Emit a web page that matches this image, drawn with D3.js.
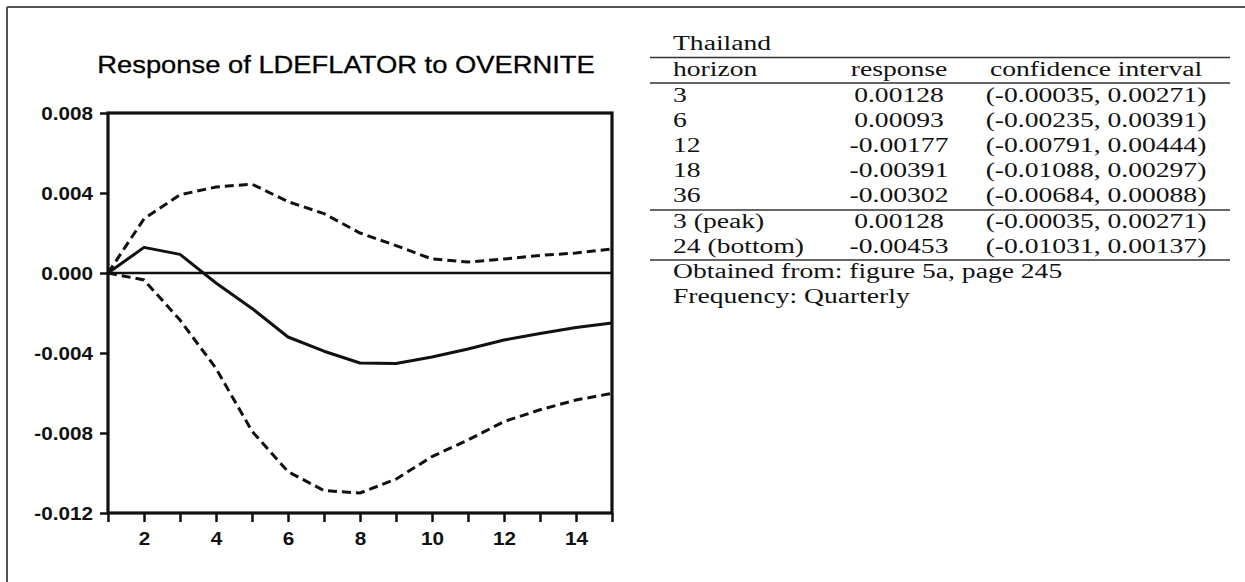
<!DOCTYPE html>
<html>
<head>
<meta charset="utf-8">
<script src="https://cdn.jsdelivr.net/npm/d3@7"></script>
<style>
  html, body { margin: 0; padding: 0; background: #ffffff; }
  svg { display: block; }
</style>
</head>
<body>
<svg id="chart" width="1245" height="582"></svg>
<script>
// ---------------- data ----------------
const horizons = [1, 2, 3, 4, 5, 6, 7, 8, 9, 10, 11, 12, 13, 14, 15];
const response = [0, 0.00128, 0.00093, -0.0005, -0.00177, -0.0032, -0.00391, -0.0045, -0.00453, -0.0042, -0.0038, -0.00335, -0.00302, -0.00272, -0.0025];
const upperBand = [0, 0.00271, 0.00391, 0.0043, 0.00444, 0.00357, 0.00297, 0.002, 0.00137, 0.0007, 0.00055, 0.0007, 0.00088, 0.001, 0.0012];
const lowerBand = [0, -0.00035, -0.00235, -0.00477, -0.00791, -0.00993, -0.01088, -0.011, -0.01031, -0.00918, -0.00835, -0.00743, -0.00684, -0.00635, -0.00602];

const yTickValues = [0.008, 0.004, 0.000, -0.004, -0.008, -0.012];
const yTickLabels = ["0.008", "0.004", "0.000", "-0.004", "-0.008", "-0.012"];
const xTickValues = [1, 2, 3, 4, 5, 6, 7, 8, 9, 10, 11, 12, 13, 14, 15];
const xTickLabels = ["", "2", "", "4", "", "6", "", "8", "", "10", "", "12", "", "14", ""];

const chartTitle = "Response of LDEFLATOR to OVERNITE";

const tableTitle = "Thailand";
const tableHeader = ["horizon", "response", "confidence interval"];
const tableHorizon = ["3", "6", "12", "18", "36"];
const tableResponse = ["0.00128", "0.00093", "-0.00177", "-0.00391", "-0.00302"];
const tableCI = ["(-0.00035, 0.00271)", "(-0.00235, 0.00391)", "(-0.00791, 0.00444)", "(-0.01088, 0.00297)", "(-0.00684, 0.00088)"];
const summaryHorizon = ["3 (peak)", "24 (bottom)"];
const summaryResponse = ["0.00128", "-0.00453"];
const summaryCI = ["(-0.00035, 0.00271)", "(-0.01031, 0.00137)"];
const tableNotes = ["Obtained from: figure 5a, page 245", "Frequency: Quarterly"];

// ---------------- drawing ----------------
const svg = d3.select("#chart");
svg.append("rect").attr("width", 1245).attr("height", 582).attr("fill", "#ffffff");

// outer frame (page border)
svg.append("line").attr("x1", 7).attr("y1", 7).attr("x2", 1245).attr("y2", 7)
  .attr("stroke", "#555").attr("stroke-width", 2);
svg.append("line").attr("x1", 7).attr("y1", 7).attr("x2", 7).attr("y2", 582)
  .attr("stroke", "#555").attr("stroke-width", 2);

const plot = { left: 108, top: 113, right: 612, bottom: 513 };
const x = d3.scaleLinear().domain([1, 15]).range([plot.left, plot.right]);
const y = d3.scaleLinear().domain([-0.012, 0.008]).range([plot.bottom, plot.top]);

const sansFont = "'Liberation Sans', Arial, Helvetica, sans-serif";
const stretch = 1.15;

// title
svg.append("text")
  .attr("transform", `translate(346,73) scale(1.14,1)`)
  .attr("text-anchor", "middle")
  .attr("font-family", sansFont)
  .attr("font-size", 24)
  .attr("fill", "#000")
  .attr("stroke", "#000").attr("stroke-width", 0.3)
  .text(chartTitle);

// y axis
const yAxis = svg.append("g")
  .attr("transform", `translate(${plot.left},0)`)
  .call(d3.axisLeft(y).tickValues(yTickValues).tickSize(8).tickSizeOuter(0)
    .tickFormat((d, i) => yTickLabels[i]));
yAxis.select(".domain").remove();
yAxis.selectAll(".tick line").attr("stroke", "#111").attr("stroke-width", 2.5);
yAxis.selectAll(".tick text")
  .attr("x", null).attr("dy", null)
  .attr("transform", `translate(-15,6.5) scale(${stretch},1)`)
  .attr("text-anchor", "end")
  .attr("font-family", sansFont)
  .attr("font-weight", "bold")
  .attr("font-size", 18)
  .attr("fill", "#111");

// x axis
const xAxis = svg.append("g")
  .attr("transform", `translate(0,${plot.bottom})`)
  .call(d3.axisBottom(x).tickValues(xTickValues).tickSize(9).tickSizeOuter(0)
    .tickFormat((d, i) => xTickLabels[i]));
xAxis.select(".domain").remove();
xAxis.selectAll(".tick line").attr("stroke", "#111").attr("stroke-width", 2.5);
xAxis.selectAll(".tick text")
  .attr("y", null).attr("dy", null)
  .attr("transform", `translate(0,32) scale(${stretch},1)`)
  .attr("text-anchor", "middle")
  .attr("font-family", sansFont)
  .attr("font-weight", "bold")
  .attr("font-size", 18)
  .attr("fill", "#111");

// zero line
svg.append("line")
  .attr("x1", plot.left).attr("x2", plot.right)
  .attr("y1", y(0)).attr("y2", y(0))
  .attr("stroke", "#111").attr("stroke-width", 2.6);

// series
const line = d3.line().x((d, i) => x(horizons[i])).y(d => y(d));
svg.append("path").datum(upperBand).attr("d", line)
  .attr("fill", "none").attr("stroke", "#111").attr("stroke-width", 3)
  .attr("stroke-dasharray", "9,5");
svg.append("path").datum(lowerBand).attr("d", line)
  .attr("fill", "none").attr("stroke", "#111").attr("stroke-width", 3)
  .attr("stroke-dasharray", "9,5");
svg.append("path").datum(response).attr("d", line)
  .attr("fill", "none").attr("stroke", "#111").attr("stroke-width", 3)
  .attr("stroke-linejoin", "round");

// plot frame
svg.append("rect")
  .attr("x", plot.left).attr("y", plot.top)
  .attr("width", plot.right - plot.left).attr("height", plot.bottom - plot.top)
  .attr("fill", "none").attr("stroke", "#111").attr("stroke-width", 3.2);

// ---------------- table ----------------
const serif = "'Liberation Serif', 'Times New Roman', serif";
const tStretch = 1.38;
const col1 = 673, col2 = 899, col3 = 1096;
const ruleX1 = 650, ruleX2 = 1230;
const tbl = svg.append("g");

function cell(txt, cx, cy, anchor) {
  tbl.append("text")
    .attr("transform", `translate(${cx},${cy}) scale(${tStretch},1)`)
    .attr("text-anchor", anchor)
    .attr("font-family", serif)
    .attr("font-size", 20)
    .attr("fill", "#111")
    .text(txt);
}
function rule(ry) {
  tbl.append("line").attr("x1", ruleX1).attr("x2", ruleX2)
    .attr("y1", ry).attr("y2", ry)
    .attr("stroke", "#333").attr("stroke-width", 1.4);
}

cell(tableTitle, col1, 50, "start");
rule(57.5);
cell(tableHeader[0], col1, 76, "start");
cell(tableHeader[1], col2, 76, "middle");
cell(tableHeader[2], col3, 76, "middle");
rule(83);
tableHorizon.forEach((h, i) => {
  const ry = 102 + i * 25;
  cell(h, col1, ry, "start");
  cell(tableResponse[i], col2, ry, "middle");
  cell(tableCI[i], col3, ry, "middle");
});
rule(210);
summaryHorizon.forEach((h, i) => {
  const ry = 228 + i * 25;
  cell(h, col1, ry, "start");
  cell(summaryResponse[i], col2, ry, "middle");
  cell(summaryCI[i], col3, ry, "middle");
});
rule(260);
tableNotes.forEach((t, i) => cell(t, col1, 278 + i * 25, "start"));
</script>
</body>
</html>
